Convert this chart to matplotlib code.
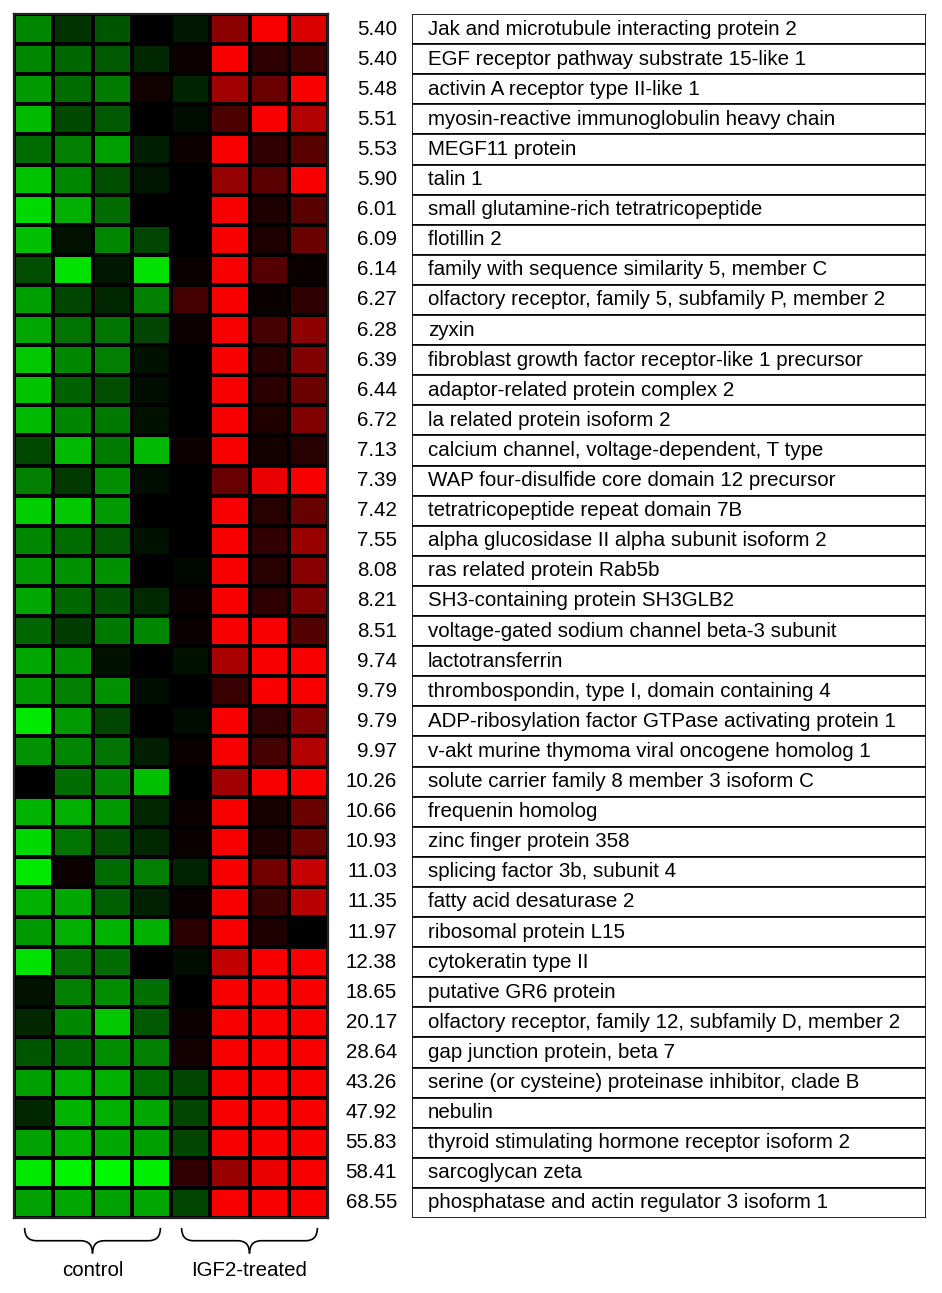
import matplotlib
matplotlib.use("Agg")
import matplotlib.pyplot as plt
import numpy as np
from matplotlib.colors import LinearSegmentedColormap
from matplotlib.path import Path
from matplotlib.patches import PathPatch

plt.rcParams["font.family"] = ["Liberation Sans", "DejaVu Sans"]

genes = [
    "Jak and microtubule interacting protein 2",
    "EGF receptor pathway substrate 15-like 1",
    "activin A receptor type II-like 1",
    "myosin-reactive immunoglobulin heavy chain",
    "MEGF11 protein",
    "talin 1",
    "small glutamine-rich tetratricopeptide",
    "flotillin 2",
    "family with sequence similarity 5, member C",
    "olfactory receptor, family 5, subfamily P, member 2",
    "zyxin",
    "fibroblast growth factor receptor-like 1 precursor",
    "adaptor-related protein complex 2",
    "la related protein isoform 2",
    "calcium channel, voltage-dependent, T type",
    "WAP four-disulfide core domain 12 precursor",
    "tetratricopeptide repeat domain 7B",
    "alpha glucosidase II alpha subunit isoform 2",
    "ras related protein Rab5b",
    "SH3-containing protein SH3GLB2",
    "voltage-gated sodium channel beta-3 subunit",
    "lactotransferrin",
    "thrombospondin, type I, domain containing 4",
    "ADP-ribosylation factor GTPase activating protein 1",
    "v-akt murine thymoma viral oncogene homolog 1",
    "solute carrier family 8 member 3 isoform C",
    "frequenin homolog",
    "zinc finger protein 358",
    "splicing factor 3b, subunit 4",
    "fatty acid desaturase 2",
    "ribosomal protein L15",
    "cytokeratin type II",
    "putative GR6 protein",
    "olfactory receptor, family 12, subfamily D, member 2",
    "gap junction protein, beta 7",
    "serine (or cysteine) proteinase inhibitor, clade B",
    "nebulin",
    "thyroid stimulating hormone receptor isoform 2",
    "sarcoglycan zeta",
    "phosphatase and actin regulator 3 isoform 1",
]

fold_change = [5.40, 5.40, 5.48, 5.51, 5.53, 5.90, 6.01, 6.09, 6.14, 6.27,
               6.28, 6.39, 6.44, 6.72, 7.13, 7.39, 7.42, 7.55, 8.08, 8.21,
               8.51, 9.74, 9.79, 9.79, 9.97, 10.26, 10.66, 10.93, 11.03, 11.35,
               11.97, 12.38, 18.65, 20.17, 28.64, 43.26, 47.92, 55.83, 58.41, 68.55]

# negative = green (down), positive = red (up), 0 = black
control = [
    [-0.53, -0.20, -0.33, 0.00],
    [-0.53, -0.40, -0.35, -0.15],
    [-0.60, -0.42, -0.48, 0.07],
    [-0.72, -0.28, -0.35, 0.00],
    [-0.42, -0.50, -0.62, -0.12],
    [-0.76, -0.53, -0.30, -0.08],
    [-0.85, -0.68, -0.42, 0.00],
    [-0.75, -0.07, -0.53, -0.27],
    [-0.30, -0.88, -0.10, -0.88],
    [-0.62, -0.27, -0.15, -0.50],
    [-0.65, -0.45, -0.45, -0.27],
    [-0.78, -0.53, -0.50, -0.07],
    [-0.76, -0.38, -0.30, -0.05],
    [-0.72, -0.52, -0.47, -0.07],
    [-0.28, -0.72, -0.48, -0.72],
    [-0.50, -0.22, -0.55, -0.05],
    [-0.80, -0.78, -0.60, 0.00],
    [-0.53, -0.42, -0.35, -0.07],
    [-0.60, -0.57, -0.57, 0.00],
    [-0.65, -0.40, -0.32, -0.16],
    [-0.40, -0.23, -0.47, -0.53],
    [-0.65, -0.57, -0.07, 0.00],
    [-0.60, -0.50, -0.57, -0.05],
    [-0.90, -0.60, -0.27, 0.00],
    [-0.57, -0.52, -0.45, -0.12],
    [0.00, -0.42, -0.52, -0.75],
    [-0.70, -0.68, -0.60, -0.15],
    [-0.85, -0.45, -0.32, -0.15],
    [-0.90, 0.05, -0.42, -0.50],
    [-0.68, -0.65, -0.37, -0.13],
    [-0.60, -0.68, -0.70, -0.68],
    [-0.88, -0.45, -0.42, 0.00],
    [-0.07, -0.50, -0.55, -0.43],
    [-0.15, -0.53, -0.78, -0.35],
    [-0.33, -0.42, -0.55, -0.50],
    [-0.62, -0.68, -0.68, -0.42],
    [-0.15, -0.70, -0.68, -0.65],
    [-0.63, -0.68, -0.65, -0.62],
    [-0.90, -0.95, -0.97, -0.93],
    [-0.63, -0.65, -0.63, -0.65],
]

igf2 = [
    [-0.10, 0.55, 0.97, 0.85],
    [0.05, 0.97, 0.18, 0.25],
    [-0.14, 0.63, 0.42, 0.97],
    [-0.05, 0.30, 0.97, 0.70],
    [0.05, 0.97, 0.20, 0.35],
    [0.00, 0.58, 0.35, 0.97],
    [0.00, 0.97, 0.12, 0.35],
    [0.00, 0.97, 0.12, 0.42],
    [0.04, 0.97, 0.33, 0.04],
    [0.27, 0.97, 0.04, 0.18],
    [0.05, 0.97, 0.27, 0.57],
    [0.00, 0.97, 0.17, 0.50],
    [0.00, 0.97, 0.17, 0.42],
    [0.00, 0.97, 0.13, 0.50],
    [0.05, 0.97, 0.08, 0.15],
    [0.00, 0.40, 0.92, 0.97],
    [0.00, 0.97, 0.15, 0.40],
    [0.00, 0.97, 0.20, 0.60],
    [-0.03, 0.97, 0.15, 0.53],
    [0.04, 0.97, 0.18, 0.50],
    [0.04, 0.97, 0.97, 0.33],
    [-0.07, 0.67, 0.97, 0.97],
    [0.00, 0.22, 0.97, 0.97],
    [-0.04, 0.97, 0.20, 0.50],
    [0.04, 0.97, 0.27, 0.70],
    [0.00, 0.63, 0.97, 0.97],
    [0.04, 0.97, 0.10, 0.42],
    [0.04, 0.97, 0.12, 0.42],
    [-0.14, 0.97, 0.45, 0.77],
    [0.04, 0.97, 0.23, 0.72],
    [0.17, 0.97, 0.12, 0.00],
    [-0.05, 0.75, 0.97, 0.97],
    [0.00, 0.97, 0.97, 0.97],
    [0.05, 0.97, 0.97, 0.97],
    [0.08, 0.97, 0.97, 0.97],
    [-0.27, 0.97, 0.97, 0.97],
    [-0.27, 0.97, 0.97, 0.97],
    [-0.27, 0.97, 0.97, 0.97],
    [0.20, 0.60, 0.92, 0.97],
    [-0.27, 0.97, 0.97, 0.97],
]

groups = ["control", "IGF2-treated"]


def draw_brace(ax, x0, x1, y0, depth, r):
    xm = (x0 + x1) / 2
    ym = y0 + depth / 2
    y1 = y0 + depth
    for a, s in ((x0, 1), (x1, -1)):
        verts = [(a, y0), (a, ym), (a + s * r, ym),
                 (xm - s * r, ym), (xm, ym), (xm, y1)]
        codes = [Path.MOVETO, Path.CURVE3, Path.CURVE3,
                 Path.LINETO, Path.CURVE3, Path.CURVE3]
        ax.add_patch(PathPatch(Path(verts, codes), fill=False, lw=1.2,
                               color="black", clip_on=False))


def main():
    values = np.hstack([np.array(control), np.array(igf2)])
    n_rows, n_cols = values.shape

    W, H = 942, 1293
    fig = plt.figure(figsize=(W / 100, H / 100), dpi=100)

    ax = fig.add_axes([14 / W, 1 - 1218 / H, 314 / W, 1204 / H])
    cmap = LinearSegmentedColormap.from_list("gkr", [(0, 1, 0), (0, 0, 0), (1, 0, 0)])
    ax.pcolormesh(values, cmap=cmap, vmin=-1, vmax=1,
                  edgecolors="black", linewidth=1.6)
    ax.set_xlim(0, n_cols)
    ax.set_ylim(n_rows, 0)
    ax.set_xticks([])
    ax.set_yticks([])
    for sp in ax.spines.values():
        sp.set_linewidth(1.6)
        sp.set_color("#222222")

    # group braces and labels
    half = n_cols // 2
    for k, name in enumerate(groups):
        c = k * half + half / 2
        draw_brace(ax, c - 1.73, c + 1.73, n_rows + 0.33, 0.85, 0.3)
        ax.text(c, n_rows + 1.75, name, ha="center", va="center",
                fontsize=14.8, clip_on=False)

    lab = fig.add_axes([412 / W, 1 - 1218 / H, 514 / W, 1204 / H])
    rows = np.arange(n_rows) + 0.5
    lab.barh(rows, 1, height=1, left=0, color="white",
             edgecolor="black", linewidth=1.2)
    lab.set_xlim(0, 1)
    lab.set_ylim(n_rows, 0)
    lab.axis("off")
    for y, g, f in zip(rows, genes, fold_change):
        lab.text(16 / 514, y, g, ha="left", va="center", fontsize=14.8)
        lab.text(-15 / 514, y, f"{f:.2f}", ha="right", va="center", fontsize=14.8)

    fig.savefig("out.png", dpi=100, facecolor="white")


if __name__ == "__main__":
    main()
